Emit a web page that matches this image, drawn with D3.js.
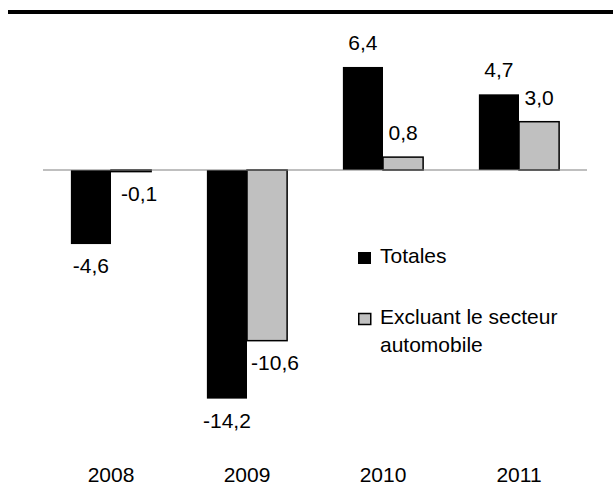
<!DOCTYPE html>
<html>
<head>
<meta charset="utf-8">
<script src="https://cdn.jsdelivr.net/npm/d3@7"></script>
<style>
    body { margin: 0; background: #fff; }
    svg { display: block; font-family: "Liberation Sans", Arial, sans-serif; }
</style>
</head>
<body>
<div id="grafico"></div>
<script>
// Datos del gráfico
let anios = ["2008", "2009", "2010", "2011"];
let totales = [-4.6, -14.2, 6.4, 4.7];
let sin_automovil = [-0.1, -10.6, 0.8, 3.0];
let series = ["Totales", "Excluant le secteur automobile"];
let titulo = "(Variation en pourcentage en termes réels)";

let width = 613, height = 503;

let svg = d3.select("#grafico")
    .append("svg")
    .attr("width", width)
    .attr("height", height);

// Título recortado por arriba, solo se ven los descendentes
svg.append("text")
    .attr("x", 8)
    .attr("y", -5)
    .style("font-size", "24px")
    .style("font-weight", "bold")
    .text(titulo);

// Línea gruesa superior
svg.append("rect")
    .attr("x", 8)
    .attr("y", 10)
    .attr("width", width - 8)
    .attr("height", 4)
    .attr("fill", "#000");

let x = d3.scaleBand()
    .domain(anios)
    .range([43, 587])
    .paddingInner(0.41)
    .paddingOuter(0.205);

let xs = d3.scaleBand()
    .domain(series)
    .range([0, x.bandwidth()]);

let y = d3.scaleLinear()
    .domain([-15, 7])
    .range([411.5, 57.3]);

let datos = [];
for (let i = 0; i < anios.length; i++) {
    datos.push({anio: anios[i], serie: series[0], valor: totales[i]});
    datos.push({anio: anios[i], serie: series[1], valor: sin_automovil[i]});
}

let color = {};
color[series[0]] = "#000000";
color[series[1]] = "#c0c0c0";

svg.append("g")
    .selectAll("rect")
    .data(datos)
    .enter()
    .append("rect")
    .attr("x", function (d) { return x(d.anio) + xs(d.serie); })
    .attr("y", function (d) { return y(Math.max(0, d.valor)); })
    .attr("width", xs.bandwidth())
    .attr("height", function (d) { return Math.abs(y(d.valor) - y(0)); })
    .attr("fill", function (d) { return color[d.serie]; })
    .attr("stroke", "#000")
    .attr("stroke-width", function (d) { return d.serie === series[0] ? 0 : 1.5; });

// Eje cero
svg.append("line")
    .attr("x1", 43)
    .attr("x2", 587)
    .attr("y1", y(0))
    .attr("y2", y(0))
    .attr("stroke", "#808080")
    .attr("stroke-width", 1.2);

// Etiquetas de valores
let formato = function (v) { return d3.format(".1f")(v).replace(".", ",").replace("−", "-"); };

svg.append("g")
    .selectAll("text")
    .data(datos)
    .enter()
    .append("text")
    .attr("text-anchor", "middle")
    .attr("x", function (d) {
        let desplaz = (d.serie === series[1] && d.valor < 0) ? 8 : 0;
        return x(d.anio) + xs(d.serie) + xs.bandwidth() / 2 + desplaz;
    })
    .attr("y", function (d) {
        return d.valor >= 0 ? y(d.valor) - 17 : y(d.valor) + 29;
    })
    .style("font-size", "21px")
    .style("fill", "#000")
    .text(function (d) { return formato(d.valor); });

// Etiquetas del eje X
svg.append("g")
    .selectAll("text")
    .data(anios)
    .enter()
    .append("text")
    .attr("text-anchor", "middle")
    .attr("x", function (d) { return x(d) + x.bandwidth() / 2; })
    .attr("y", 482)
    .style("font-size", "21px")
    .text(function (d) { return d; });

// Leyenda
let leyenda = svg.append("g").attr("transform", "translate(358,252)");

leyenda.append("rect")
    .attr("x", 0).attr("y", 0)
    .attr("width", 13).attr("height", 12)
    .attr("fill", color[series[0]]);
leyenda.append("text")
    .attr("x", 22).attr("y", 11)
    .style("font-size", "21px")
    .text(series[0]);

leyenda.append("rect")
    .attr("x", 0.75).attr("y", 61.5)
    .attr("width", 12).attr("height", 11)
    .attr("fill", color[series[1]])
    .attr("stroke", "#000")
    .attr("stroke-width", 1.5);
leyenda.append("text")
    .attr("x", 22).attr("y", 72)
    .style("font-size", "21px")
    .text("Excluant le secteur");
leyenda.append("text")
    .attr("x", 22).attr("y", 100)
    .style("font-size", "21px")
    .text("automobile");
</script>
</body>
</html>
